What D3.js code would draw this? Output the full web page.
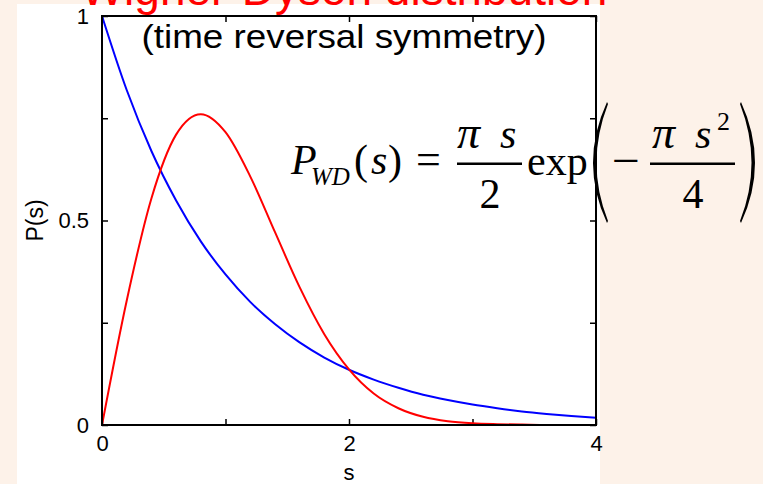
<!DOCTYPE html>
<html>
<head>
<meta charset="utf-8">
<script src="https://cdn.jsdelivr.net/npm/d3@7"></script>
<style>
  html, body { margin: 0; padding: 0; background: #fdf2e9; overflow: hidden; }
</style>
</head>
<body>
<div id="chart"></div>
<script>
// values
var sValues = [0, 0.2, 0.4, 0.6, 0.8, 1.0, 1.2, 1.4, 1.6, 1.8, 2.0,
               2.2, 2.4, 2.6, 2.8, 3.0, 3.2, 3.4, 3.6, 3.8, 4.0];
// Poisson (blue)
var poissonValues = [1.000, 0.819, 0.670, 0.549, 0.449, 0.368, 0.301, 0.247, 0.202, 0.165, 0.135,
                     0.111, 0.091, 0.074, 0.061, 0.050, 0.041, 0.033, 0.027, 0.022, 0.018];
// Wigner-Dyson (red)
var wignerValues = [0.000, 0.304, 0.554, 0.710, 0.760, 0.716, 0.608, 0.472, 0.337, 0.222, 0.136,
                    0.077, 0.041, 0.020, 0.009, 0.004, 0.002, 0.001, 0.000, 0.000, 0.000];

var xTicks = [0, 1, 2, 3, 4];
var xTickLabels = ["0", "", "2", "", "4"];
var yTicks = [0, 0.25, 0.5, 0.75, 1];
var yTickLabels = ["0", "", "0.5", "", "1"];

var W = 763, H = 484;
var margin = {top: 16, right: 167, bottom: 59, left: 102};
var width = W - margin.left - margin.right;
var height = H - margin.top - margin.bottom;

var svg = d3.select("#chart").append("svg")
    .attr("width", W)
    .attr("height", H)
    .style("display", "block");

// page background + white panel
svg.append("rect").attr("width", W).attr("height", H).attr("fill", "#fdf2e9");
svg.append("rect").attr("x", 17).attr("y", 4).attr("width", 583).attr("height", H - 4).attr("fill", "#ffffff");

// title (cut at the top as in the slide)
svg.append("text")
    .attr("x", 344).attr("y", 5)
    .attr("text-anchor", "middle")
    .attr("font-family", "Liberation Sans, Arial, sans-serif")
    .attr("font-size", 46)
    .attr("fill", "#ff0000")
    .text("Wigner-Dyson distribution");

var g = svg.append("g")
    .attr("transform", "translate(" + margin.left + "," + margin.top + ")");

var x = d3.scaleLinear().domain([0, 4]).range([0, width]);
var y = d3.scaleLinear().domain([0, 1]).range([height, 0]);

var fontAxis = "Liberation Sans, Arial, sans-serif";

// axes with inward ticks
var xAxis = g.append("g")
    .attr("transform", "translate(0," + height + ")")
    .call(d3.axisBottom(x).tickValues(xTicks).tickSizeInner(-6).tickSizeOuter(0).tickPadding(10)
        .tickFormat(function (d, i) { return xTickLabels[i]; }));
var xTop = g.append("g")
    .call(d3.axisTop(x).tickValues(xTicks).tickSizeInner(-6).tickSizeOuter(0).tickFormat(""));
var yAxis = g.append("g")
    .call(d3.axisLeft(y).tickValues(yTicks).tickSizeInner(-6).tickSizeOuter(0).tickPadding(13)
        .tickFormat(function (d, i) { return yTickLabels[i]; }));
var yRight = g.append("g")
    .attr("transform", "translate(" + width + ",0)")
    .call(d3.axisRight(y).tickValues(yTicks).tickSizeInner(-6).tickSizeOuter(0).tickFormat(""));

[xAxis, xTop, yAxis, yRight].forEach(function (a) {
    a.select(".domain").remove();
    a.selectAll(".tick line").attr("stroke", "#000").attr("stroke-width", 1.5);
    a.selectAll(".tick text")
        .attr("font-family", fontAxis)
        .attr("font-size", 22)
        .attr("fill", "#000");
});

// curves
var line = d3.line()
    .x(function (d, i) { return x(sValues[i]); })
    .y(function (d) { return y(d); })
    .curve(d3.curveMonotoneX);

g.append("path").datum(poissonValues)
    .attr("d", line)
    .attr("fill", "none")
    .attr("stroke", "#0000ff")
    .attr("stroke-width", 2);

g.append("path").datum(wignerValues)
    .attr("d", line)
    .attr("fill", "none")
    .attr("stroke", "#ff0000")
    .attr("stroke-width", 2);

// frame
g.append("rect")
    .attr("width", width).attr("height", height)
    .attr("fill", "none").attr("stroke", "#000").attr("stroke-width", 2);

// axis titles
g.append("text")
    .attr("x", width / 2).attr("y", height + 55)
    .attr("text-anchor", "middle")
    .attr("font-family", fontAxis).attr("font-size", 22)
    .text("s");

g.append("text")
    .attr("transform", "translate(" + (43 - margin.left) + "," + (height / 2) + ") rotate(-90)")
    .attr("text-anchor", "middle")
    .attr("font-family", fontAxis).attr("font-size", 23)
    .text("P(s)");

// subtitle inside the plot
svg.append("text")
    .attr("x", 344).attr("y", 48)
    .attr("text-anchor", "middle")
    .attr("font-family", fontAxis).attr("font-size", 34)
    .attr("textLength", 405).attr("lengthAdjust", "spacingAndGlyphs")
    .text("(time reversal symmetry)");

// formula
var serif = "Liberation Serif, Times New Roman, serif";
var f = svg.append("g").attr("font-family", serif).attr("fill", "#000");

function txt(tx, ty, size, str, italic, anchor) {
    return f.append("text")
        .attr("x", tx).attr("y", ty)
        .attr("font-size", size)
        .attr("font-style", italic ? "italic" : "normal")
        .attr("text-anchor", anchor || "start")
        .text(str);
}

txt(291, 174, 42, "P", true);
txt(311, 185, 25, "WD", true);
txt(354, 174, 42, "(", false);
txt(371, 174, 42, "s", true);
txt(388, 174, 42, ")", false);
txt(416, 174, 44, "=", false);

txt(457, 148, 46, "π", true);
txt(500, 148, 42, "s", true);
f.append("rect").attr("x", 457).attr("y", 162.5).attr("width", 65).attr("height", 2.5);
txt(490, 208, 42, "2", false, "middle");

txt(527, 175, 42, "exp", false);

f.append("path").attr("d", "M607,102 Q579,163 607,223 L608,221 Q585,163 608,104 Z");
f.append("text").attr("x", 612).attr("y", 176)
    .attr("font-size", 46).text("−")
    .attr("textLength", 28).attr("lengthAdjust", "spacingAndGlyphs");

txt(652, 148, 46, "π", true);
txt(695, 148, 42, "s", true);
txt(717, 130, 26, "2", false);
f.append("rect").attr("x", 650).attr("y", 162.5).attr("width", 85).attr("height", 2.5);
txt(693, 208, 42, "4", false, "middle");

f.append("path").attr("d", "M741,102 Q769,163 741,223 L740,221 Q763,163 740,104 Z");
</script>
</body>
</html>
